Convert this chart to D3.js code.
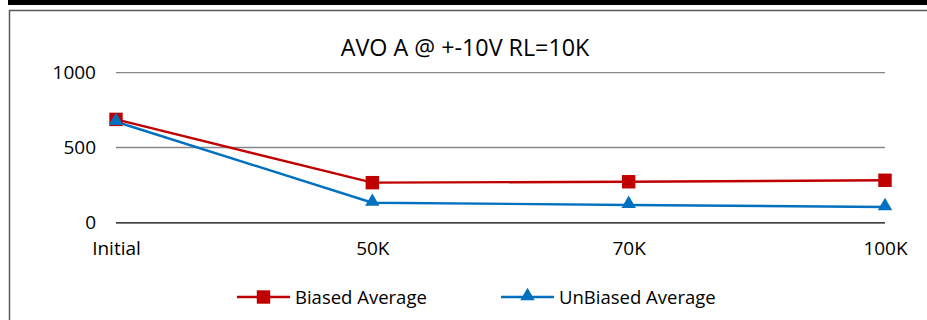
<!DOCTYPE html>
<html><head><meta charset="utf-8">
<script src="https://cdn.jsdelivr.net/npm/d3@7"></script>
<style>body{margin:0;background:#fff}svg{display:block}text{font-family:"Open Sans",Lato,sans-serif;fill:#000}</style>
</head><body>
<svg id="c" width="927" height="320"></svg>
<script>
const categories = ["Initial", "50K", "70K", "100K"];
const biased = [688, 265, 271, 281];
const unbiased = [672, 131, 116, 102];
const yTicks = [0, 500, 1000];
const seriesNames = ["Biased Average", "UnBiased Average"];
const title = "AVO A @ +-10V RL=10K";
const FONT = "Open Sans";

const svg = d3.select("#c");
// top black bar and frame
svg.append("rect").attr("x", 8).attr("y", 0).attr("width", 919).attr("height", 5).attr("fill", "#000");
svg.append("path").attr("d", "M9.5,330 V10.5 H927").attr("fill", "none").attr("stroke", "#595959").attr("stroke-width", 1.5);

const x = d3.scalePoint().domain(categories).range([116, 885]);
const y = d3.scaleLinear().domain([0, 1000]).range([222.3, 72.7]);

svg.append("text").attr("x", 465).attr("y", 56).attr("text-anchor", "middle").attr("font-size", 23.3).text(title);

// gridlines
svg.append("g").selectAll("line").data(yTicks.filter(d => d > 0)).join("line")
  .attr("x1", 116).attr("x2", 885).attr("y1", d => y(d)).attr("y2", d => y(d))
  .attr("stroke", "#868686").attr("stroke-width", 1.3);

// y axis labels
const ya = svg.append("g").attr("transform", "translate(116,0)")
  .call(d3.axisLeft(y).tickValues(yTicks).tickFormat(d3.format("d")).tickSize(0).tickPadding(20));
ya.select(".domain").remove();
ya.selectAll("text").attr("font-size", 19).attr("font-family", FONT).attr("fill", "#000");

// x axis
const xa = svg.append("g").attr("transform", "translate(0," + y(0) + ")")
  .call(d3.axisBottom(x).tickSize(0).tickPadding(19));
xa.select(".domain").attr("stroke", "#000").attr("stroke-width", 1.2).attr("d", "M116,0.5H885");
xa.selectAll("text").attr("font-size", 19).attr("font-family", FONT).attr("fill", "#000");

const line = d3.line().x((d, i) => x(categories[i])).y(d => y(d));
const red = "#C00000", blue = "#0070C0";

svg.append("path").datum(biased).attr("d", line).attr("fill", "none").attr("stroke", red).attr("stroke-width", 2.4);
svg.append("path").datum(unbiased).attr("d", line).attr("fill", "none").attr("stroke", blue).attr("stroke-width", 2.4);

const sq = d3.symbol().type(d3.symbolSquare).size(180);
const tri = d3.symbol().type(d3.symbolTriangle).size(90);
svg.append("g").selectAll("path").data(biased).join("path")
  .attr("transform", (d, i) => `translate(${x(categories[i])},${y(d)})`).attr("d", sq).attr("fill", red);
svg.append("g").selectAll("path").data(unbiased).join("path")
  .attr("transform", (d, i) => `translate(${x(categories[i])},${y(d) - 1})`).attr("d", tri).attr("fill", blue);

// legend
const lg = svg.append("g");
const items = [{n: seriesNames[0], c: red, s: sq, x0: 237}, {n: seriesNames[1], c: blue, s: tri, x0: 501}];
items.forEach(it => {
  lg.append("line").attr("x1", it.x0).attr("x2", it.x0 + 53).attr("y1", 297).attr("y2", 297).attr("stroke", it.c).attr("stroke-width", 2.4);
  lg.append("path").attr("d", it.s).attr("transform", `translate(${it.x0 + 26.5},${it.s === tri ? 296 : 297})`).attr("fill", it.c);
  lg.append("text").attr("x", it.x0 + 58).attr("y", 304).attr("font-size", 18.5).text(it.n);
});
</script>
</body></html>
